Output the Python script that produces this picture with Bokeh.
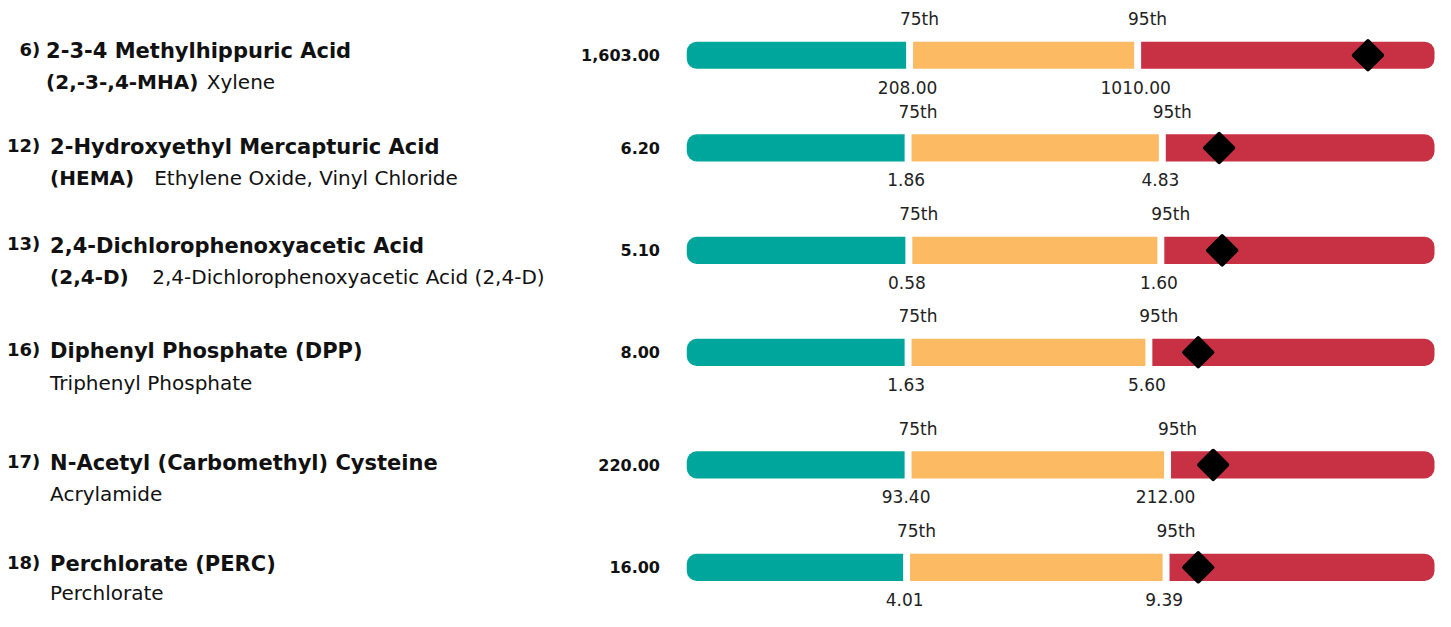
import math
from bokeh.plotting import figure
from bokeh.models import Range1d, ColumnDataSource
from bokeh.core.properties import value
from bokeh.embed import file_html
from bokeh.resources import INLINE

# ---------------- data ----------------
ids = ["6)", "12)", "13)", "16)", "17)", "18)"]
names = ["2-3-4 Methylhippuric Acid", "2-Hydroxyethyl Mercapturic Acid",
         "2,4-Dichlorophenoxyacetic Acid", "Diphenyl Phosphate (DPP)",
         "N-Acetyl (Carbomethyl) Cysteine", "Perchlorate (PERC)"]
abbrevs = ["(2,-3-,4-MHA)", "(HEMA)", "(2,4-D)", "", "", ""]
sources = ["Xylene", "Ethylene Oxide, Vinyl Chloride",
           "2,4-Dichlorophenoxyacetic Acid (2,4-D)", "Triphenyl Phosphate",
           "Acrylamide", "Perchlorate"]
results = [1603.00, 6.20, 5.10, 8.00, 220.00, 16.00]
p75 = [208.00, 1.86, 0.58, 1.63, 93.40, 4.01]
p95 = [1010.00, 4.83, 1.60, 5.60, 212.00, 9.39]
# gauge positions (fraction of the bar) of the percentile breaks and of the result
p75_pos = [0.298, 0.296, 0.297, 0.296, 0.296, 0.294]
p95_pos = [0.603, 0.636, 0.634, 0.618, 0.643, 0.641]
result_pos = [0.911, 0.712, 0.716, 0.684, 0.704, 0.684]

# ---------------- layout ----------------
W, H = 1435, 611
BAR_L_PX, BAR_R_PX = 692, 1446
ROW_Y = [58, 153.5, 259, 364, 480, 585.5]
TITLE_DY = [-4, -1, -5, -1, -2, -3]
SUB_DY = [28, 31, 27, 32, 30, 26]
TITLE_X = [46, 50, 50, 50, 50, 50]
SRC_X = [208, 155, 153, 50, 50, 50]
ID_X = 40
VALUE_X = 665
BAR_H = 28
GAP_PX = 7

TEAL, ORANGE, RED = "#00A69C", "#FCBA63", "#C83144"
FONT = value("DejaVu Sans")


def gx(px):
    return (px - BAR_L_PX) / (BAR_R_PX - BAR_L_PX)


half_gap = GAP_PX / (BAR_R_PX - BAR_L_PX) / 2
n = len(ids)

p = figure(width=W, height=H, x_range=Range1d(gx(0), gx(1447)),
           y_range=Range1d(631, 1.6), output_backend="svg",
           toolbar_location=None, min_border=0)
p.axis.visible = False
p.grid.visible = False
p.outline_line_color = None
p.background_fill_color = "white"
p.border_fill_color = "white"

# bars
p.hbar(y=ROW_Y, height=BAR_H, left=[0] * n, right=[v - half_gap for v in p75_pos],
       fill_color=TEAL, line_color=None, border_radius=(10, 0, 0, 10))
p.hbar(y=ROW_Y, height=BAR_H, left=[v + half_gap for v in p75_pos],
       right=[v - half_gap for v in p95_pos], fill_color=ORANGE, line_color=None)
p.hbar(y=ROW_Y, height=BAR_H, left=[v + half_gap for v in p95_pos], right=[1] * n,
       fill_color=RED, line_color=None, border_radius=(0, 10, 10, 0))

# result marker
p.scatter(x=result_pos, y=ROW_Y, marker="square", size=20, angle=math.pi / 4,
          fill_color="black", line_color="black", line_width=4, line_join="round")

# percentile labels
lab_off = 10 / (BAR_R_PX - BAR_L_PX)
val_off = -2 / (BAR_R_PX - BAR_L_PX)
top_src = ColumnDataSource(dict(
    x=[v + lab_off for v in p75_pos] + [v + lab_off for v in p95_pos],
    y=[y - 37 for y in ROW_Y] * 2,
    t=["75th"] * n + ["95th"] * n))
p.text(x="x", y="y", text="t", source=top_src, text_font=FONT, text_font_size="17px",
       text_align="center", text_baseline="middle", text_color="#222222")
bot_src = ColumnDataSource(dict(
    x=[v + val_off for v in p75_pos] + [v + val_off for v in p95_pos],
    y=[y + 33 for y in ROW_Y] * 2,
    t=[f"{v:.2f}" for v in p75] + [f"{v:.2f}" for v in p95]))
p.text(x="x", y="y", text="t", source=bot_src, text_font=FONT, text_font_size="17px",
       text_align="center", text_baseline="middle", text_color="#222222")

# result values
p.text(x=[gx(VALUE_X)] * n, y=ROW_Y, text=[f"{v:,.2f}" for v in results],
       text_font=FONT, text_font_size="16px", text_font_style="bold",
       text_align="right", text_baseline="middle", text_color="#111111")

# left labels
title_y = [y + d for y, d in zip(ROW_Y, TITLE_DY)]
sub_y = [y + d for y, d in zip(ROW_Y, SUB_DY)]
p.text(x=[gx(ID_X)] * n, y=[y - 2 for y in title_y], text=ids,
       text_font=FONT, text_font_size="18px", text_font_style="bold",
       text_align="right", text_baseline="middle", text_color="#111111")
p.text(x=[gx(x) for x in TITLE_X], y=title_y, text=names,
       text_font=FONT, text_font_size="21px", text_font_style="bold",
       text_align="left", text_baseline="middle", text_color="#111111")
p.text(x=[gx(x) for x in TITLE_X], y=sub_y, text=abbrevs,
       text_font=FONT, text_font_size="20px", text_font_style="bold",
       text_align="left", text_baseline="middle", text_color="#111111")
p.text(x=[gx(x) for x in SRC_X], y=sub_y, text=sources,
       text_font=FONT, text_font_size="20px",
       text_align="left", text_baseline="middle", text_color="#111111")

open("out.html", "w").write(file_html(p, INLINE))
